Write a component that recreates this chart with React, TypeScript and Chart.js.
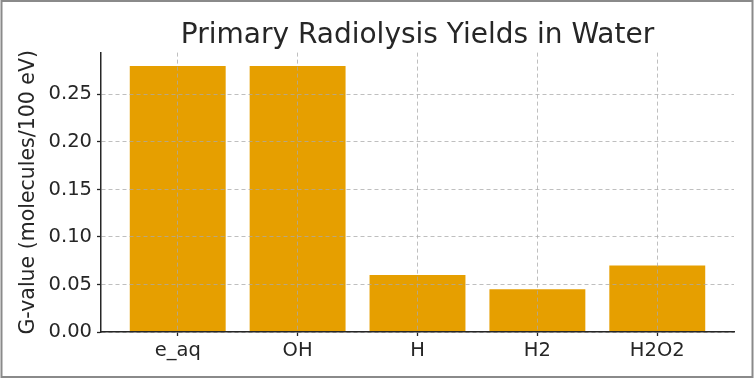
import React, { useEffect, useRef } from "react";
import { Chart, registerables } from "chart.js";

Chart.register(...registerables);

const categories = ["e_aq", "OH", "H", "H2", "H2O2"];
const gValues = [0.28, 0.28, 0.06, 0.045, 0.07];
const yTicks = [0, 0.05, 0.1, 0.15, 0.2, 0.25];
const titleText = "Primary Radiolysis Yields in Water";
const yAxisLabel = "G-value (molecules/100 eV)";

const FONT = "'DejaVu Sans', sans-serif";
const TEXT = "#262626";
const GRID = "rgba(170,170,170,0.75)";

const framePlugin = {
  id: "frame",
  beforeDraw(chart: any) {
    const ctx = chart.ctx;
    ctx.save();
    ctx.fillStyle = "#ffffff";
    ctx.fillRect(0, 0, chart.width, chart.height);
    ctx.restore();
  },
  afterDraw(chart: any) {
    const ctx = chart.ctx;
    ctx.save();
    ctx.strokeStyle = "#8a8a8a";
    ctx.lineWidth = 2;
    ctx.strokeRect(1.5, 1, chart.width - 3, chart.height - 3);
    ctx.restore();
  },
};

export default function App() {
  const ref = useRef<HTMLCanvasElement | null>(null);

  useEffect(() => {
    if (!ref.current) return;
    const n = categories.length;
    const margin = 0.05 * (n - 1 + 0.8);
    const chart = new Chart(ref.current, {
      type: "bar",
      data: {
        datasets: [
          {
            data: gValues.map((v, i) => ({ x: i, y: v })),
            backgroundColor: "#E69F00",
            borderWidth: 0,
            barPercentage: 0.8,
            categoryPercentage: 1.0,
          },
        ],
      },
      options: {
        animation: false,
        responsive: false,
        maintainAspectRatio: false,
        layout: { padding: { left: 0, right: 20, top: 0, bottom: 0 } },
        plugins: {
          legend: { display: false },
          tooltip: { enabled: false },
          title: {
            display: true,
            fullSize: false,
            text: titleText,
            color: TEXT,
            font: { family: FONT, size: 28, weight: "normal" },
            padding: { top: 18.5, bottom: 0.5 },
          },
        },
        scales: {
          x: {
            type: "linear",
            offset: false,
            min: -0.4 - margin,
            max: n - 1 + 0.4 + margin,
            afterBuildTicks: (s: any) => {
              s.ticks = categories.map((_, i) => ({ value: i }));
            },
            afterFit: (s: any) => {
              s.height = 47;
            },
            ticks: {
              stepSize: 1,
              autoSkip: false,
              maxRotation: 0,
              padding: 3,
              color: TEXT,
              font: { family: FONT, size: 19.5 },
              callback: (v: any) => categories[Math.round(Number(v))] ?? "",
            },
            grid: {
              offset: false,
              color: GRID,
              lineWidth: 1,
              tickColor: "#262626",
              tickLength: 4,
              tickWidth: 1.3,
              z: 1,
            },
            border: { color: "#262626", width: 1.5, dash: [4, 3], z: 2 },
          },
          y: {
            min: 0,
            max: 0.28 * 1.05,
            afterBuildTicks: (s: any) => {
              s.ticks = yTicks.map((v) => ({ value: v }));
            },
            afterFit: (s: any) => {
              s.width = 101;
            },
            ticks: {
              padding: 5,
              color: TEXT,
              font: { family: FONT, size: 19.5 },
              callback: (v: any) => Number(v).toFixed(2),
            },
            grid: {
              color: GRID,
              lineWidth: 1,
              tickColor: "#262626",
              tickLength: 4,
              tickWidth: 1.3,
              z: 1,
            },
            border: { color: "#262626", width: 1.5, dash: [4, 3], z: 2 },
            title: {
              display: true,
              text: yAxisLabel,
              color: TEXT,
              font: { family: FONT, size: 20.5 },
              padding: { top: 16.5, bottom: 4 },
            },
          },
        },
      },
      plugins: [framePlugin],
    });
    return () => chart.destroy();
  }, []);

  return (
    <div style={{ position: "fixed", left: 0, top: 0, width: 754, height: 379 }}>
      <canvas ref={ref} width={754} height={379} style={{ width: 754, height: 379 }} />
    </div>
  );
}
